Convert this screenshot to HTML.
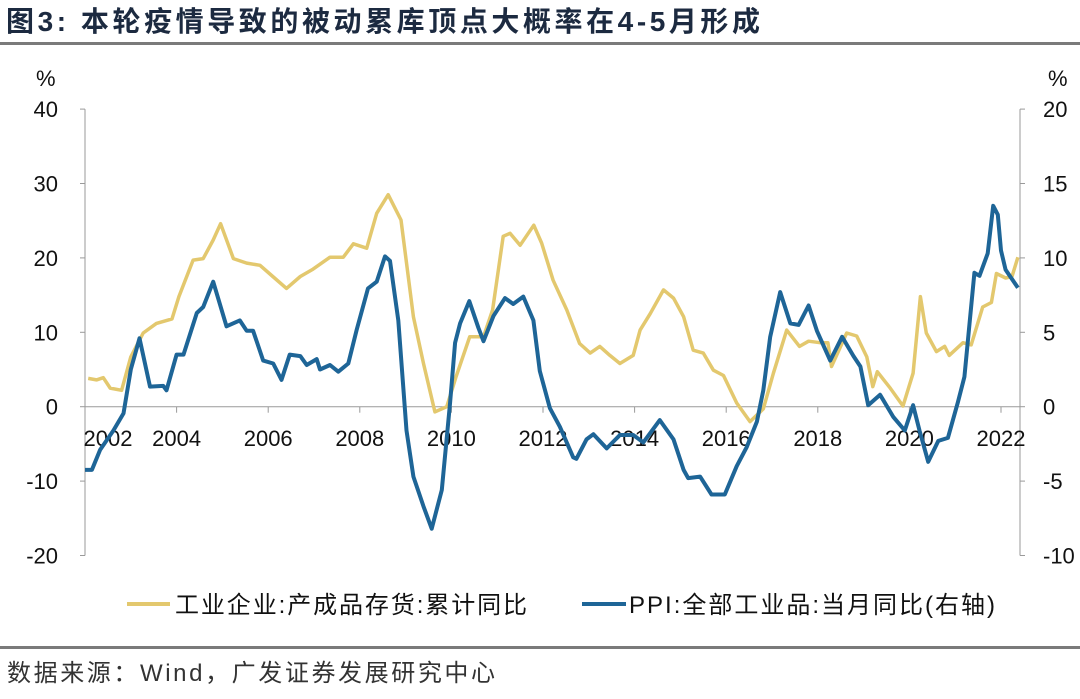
<!DOCTYPE html>
<html><head><meta charset="utf-8">
<style>
html,body{margin:0;padding:0;background:#fff;}
body{width:1080px;height:694px;overflow:hidden;position:relative;font-family:"Liberation Sans","Noto Sans CJK SC",sans-serif;}
</style></head>
<body>
<svg width="1080" height="694" xmlns="http://www.w3.org/2000/svg">
<text x="6" y="31" font-size="28" font-weight="bold" fill="#1c2a40" textLength="754" lengthAdjust="spacing" style="font-family:'Liberation Sans','Noto Sans CJK SC',sans-serif">图3:  本轮疫情导致的被动累库顶点大概率在4-5月形成</text>
<rect x="0" y="42" width="1080" height="3" fill="#7a7a7a"/>
<g id="axes"></g>
<g id="series"></g>
<g>
<line x1="127" y1="604" x2="170" y2="604" stroke="#e3c86e" stroke-width="4"/>
<text x="175" y="613" font-size="24" fill="#111" textLength="352" lengthAdjust="spacing" style="font-family:'Liberation Sans','Noto Sans CJK SC',sans-serif">工业企业:产成品存货:累计同比</text>
<line x1="582" y1="604" x2="626" y2="604" stroke="#1e6597" stroke-width="4"/>
<text x="629" y="613" font-size="24" fill="#111" textLength="366" lengthAdjust="spacing" style="font-family:'Liberation Sans','Noto Sans CJK SC',sans-serif">PPI:全部工业品:当月同比(右轴)</text>
</g>
<rect x="0" y="646" width="1080" height="3" fill="#7a7a7a"/>
<text x="7" y="681" font-size="24" fill="#333" textLength="488" lengthAdjust="spacing" style="font-family:'Liberation Sans','Noto Sans CJK SC',sans-serif">数据来源：Wind，广发证券发展研究中心</text>
</svg>
<script>
const leftTicks=[40,30,20,10,0,-10,-20];
const rightTicks=[20,15,10,5,0,-5,-10];
const yearLabels=[2002,2004,2006,2008,2010,2012,2014,2016,2018,2020,2022];
const invDates=[2002.07,2002.25,2002.4,2002.55,2002.8,2003.0,2003.27,2003.56,2003.9,2004.05,2004.36,2004.58,2004.8,2004.96,2005.24,2005.53,2005.82,2006.1,2006.4,2006.7,2006.98,2007.35,2007.64,2007.86,2008.15,2008.37,2008.62,2008.9,2009.17,2009.39,2009.64,2009.9,2010.1,2010.4,2010.7,2010.9,2011.13,2011.28,2011.5,2011.8,2011.97,2012.22,2012.52,2012.8,2013.03,2013.24,2013.46,2013.68,2013.97,2014.12,2014.34,2014.63,2014.85,2015.07,2015.28,2015.5,2015.72,2015.94,2016.23,2016.52,2016.81,2017.03,2017.32,2017.6,2017.8,2018.05,2018.22,2018.3,2018.63,2018.85,2019.07,2019.2,2019.3,2019.58,2019.86,2020.08,2020.24,2020.37,2020.59,2020.77,2020.87,2021.17,2021.35,2021.6,2021.79,2021.9,2022.1,2022.24,2022.37];
const invValues=[3.8,3.6,3.9,2.5,2.2,6.7,9.9,11.2,11.8,14.8,19.7,19.9,22.4,24.6,19.9,19.3,19.0,17.5,15.9,17.5,18.5,20.1,20.1,21.9,21.3,26.0,28.5,25.1,12.1,5.8,-0.7,0.0,4.0,9.4,9.4,13.0,22.9,23.3,21.7,24.4,22.0,17.0,13.0,8.5,7.2,8.1,6.9,5.8,6.9,10.3,12.5,15.7,14.6,12.1,7.6,7.2,4.9,4.2,0.5,-2.0,-0.3,4.5,10.3,8.1,8.8,8.6,8.6,5.4,9.9,9.5,6.7,2.7,4.7,2.5,0.1,4.5,14.8,9.9,7.4,8.1,6.9,8.6,8.3,13.4,14.0,17.9,17.3,17.5,20.1];
const ppiDates=[2002.0,2002.15,2002.33,2002.62,2002.84,2003.0,2003.19,2003.42,2003.71,2003.78,2004.0,2004.15,2004.44,2004.58,2004.8,2005.09,2005.38,2005.53,2005.67,2005.89,2006.11,2006.29,2006.47,2006.7,2006.84,2007.06,2007.13,2007.35,2007.53,2007.75,2007.93,2008.18,2008.37,2008.55,2008.66,2008.84,2009.02,2009.17,2009.39,2009.57,2009.79,2009.97,2010.08,2010.19,2010.39,2010.59,2010.7,2010.92,2011.17,2011.35,2011.57,2011.79,2011.93,2012.15,2012.37,2012.66,2012.73,2012.95,2013.1,2013.39,2013.68,2013.97,2014.19,2014.55,2014.85,2015.07,2015.17,2015.43,2015.68,2015.97,2016.23,2016.45,2016.67,2016.81,2016.96,2017.18,2017.4,2017.58,2017.8,2017.98,2018.27,2018.53,2018.78,2018.93,2019.1,2019.36,2019.65,2019.9,2020.08,2020.22,2020.41,2020.63,2020.84,2021.06,2021.2,2021.42,2021.53,2021.71,2021.83,2021.93,2022.0,2022.1,2022.37];
const ppiValues=[-4.25,-4.25,-2.9,-1.6,-0.45,2.5,4.6,1.35,1.4,1.1,3.5,3.5,6.3,6.7,8.4,5.4,5.8,5.1,5.1,3.1,2.9,1.8,3.5,3.4,2.8,3.2,2.5,2.8,2.35,2.9,5.15,7.95,8.4,10.1,9.8,5.8,-1.6,-4.7,-6.7,-8.2,-5.6,0.2,4.3,5.6,7.1,5.3,4.4,6.1,7.3,6.9,7.4,5.8,2.4,-0.1,-1.35,-3.4,-3.5,-2.2,-1.85,-2.8,-1.9,-1.9,-2.4,-0.9,-2.2,-4.25,-4.8,-4.7,-5.9,-5.9,-4.0,-2.7,-1.0,1.1,4.7,7.7,5.6,5.5,6.8,5.1,3.1,4.7,3.4,2.7,0.1,0.8,-0.7,-1.6,0.1,-1.6,-3.7,-2.3,-2.1,0.3,2.0,9.0,8.8,10.3,13.5,12.9,10.5,9.2,8.0];

const NS='http://www.w3.org/2000/svg';
const X0=85,X1=1020,PX_YEAR=45.8,Y0=406.7,PX_LEFT=7.44,PX_RIGHT=14.88;
const xs=d=>X0+(d-2002)*PX_YEAR;
const yl=v=>Y0-v*PX_LEFT;
const yr=v=>Y0-v*PX_RIGHT;
const axes=document.getElementById('axes'),series=document.getElementById('series');
function mk(tag,attrs,parent){const e=document.createElementNS(NS,tag);for(const k in attrs)e.setAttribute(k,attrs[k]);parent.appendChild(e);return e;}
const font='Liberation Sans, Noto Sans CJK SC, sans-serif';
let e;
e=mk('line',{x1:X0,y1:yl(40),x2:X0,y2:yl(-20),stroke:'#9a9a9a','stroke-width':1},axes);


e=mk('line',{x1:X1,y1:yr(20),x2:X1,y2:yr(-10),stroke:'#9a9a9a','stroke-width':1},axes);


e=mk('line',{x1:X0,y1:Y0,x2:X1,y2:Y0,stroke:'#9a9a9a','stroke-width':1},axes);


leftTicks.forEach(v=>{
  const y=yl(v);
  e=mk('line',{x1:X0-5,y1:y,x2:X0,y2:y,stroke:'#9a9a9a'},axes);
  
  
  e=mk('text',{x:58,y:y+8,'font-size':22,'text-anchor':'end',fill:'#111','font-family':font},axes);
  e.textContent=v;
  
  
});
rightTicks.forEach(v=>{
  const y=yr(v);
  e=mk('line',{x1:X1,y1:y,x2:X1+5,y2:y,stroke:'#9a9a9a'},axes);
  
  
  e=mk('text',{x:1043,y:y+8,'font-size':22,'text-anchor':'start',fill:'#111','font-family':font},axes);
  e.textContent=v;
  
  
});
e=mk('text',{x:36,y:86,'font-size':22,fill:'#111','font-family':font},axes);e.textContent='%';


e=mk('text',{x:1048,y:86,'font-size':22,fill:'#111','font-family':font},axes);e.textContent='%';


yearLabels.forEach(yv=>{
  const x=xs(yv);
  e=mk('line',{x1:x,y1:Y0,x2:x,y2:Y0+6,stroke:'#9a9a9a'},axes);
  
  
  e=mk('text',{x:Math.max(x,108),y:446,'font-size':22,'text-anchor':'middle',fill:'#111','font-family':font},axes);
  e.textContent=yv;
  
  
});
function path(dates,vals,yf){return dates.map((d,i)=>(i?'L':'M')+xs(d).toFixed(1)+','+yf(vals[i]).toFixed(1)).join('');}
e=mk('path',{d:path(invDates,invValues,yl),fill:'none',stroke:'#e3c86e','stroke-width':3.5,'stroke-linejoin':'round'},series);


e=mk('path',{d:path(ppiDates,ppiValues,yr),fill:'none',stroke:'#1e6597','stroke-width':4,'stroke-linejoin':'round'},series);


</script>
</body></html>
